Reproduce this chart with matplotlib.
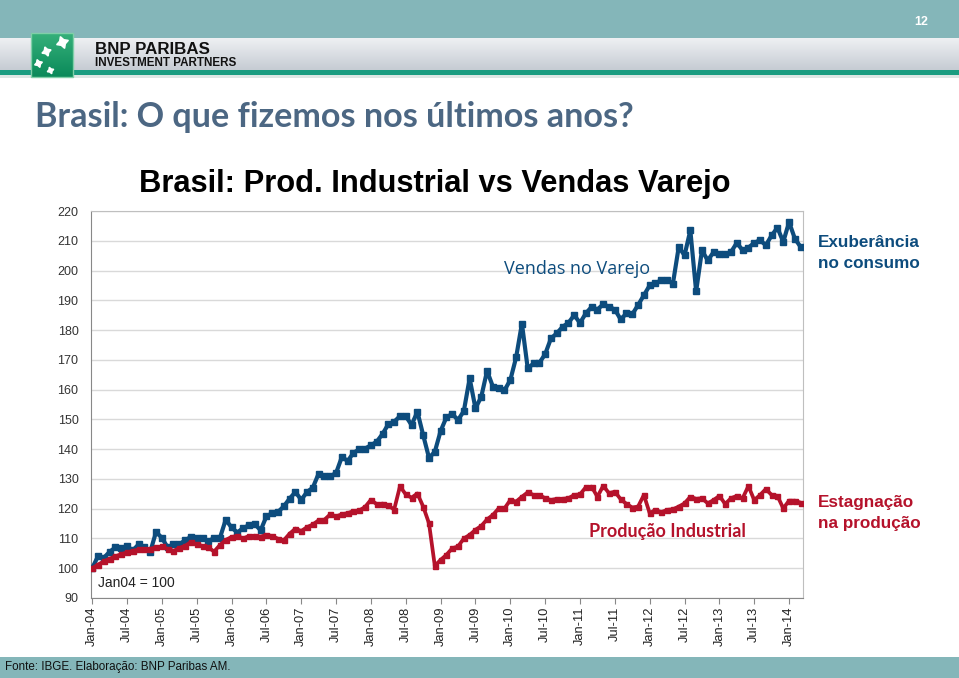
# Brasil: Prod. Industrial vs Vendas Varejo - slide recreation
import matplotlib
matplotlib.use("Agg")
import matplotlib.pyplot as plt
from matplotlib.patches import Rectangle
import numpy as np
import pandas as pd

# data (Jan04 = 100), monthly Jan-04 .. Mar-14
vendas_varejo = [
    100, 104, 103.5, 105.5, 107, 106.7, 107.3, 106, 108, 107, 105.5, 112.2,
    110.2, 107, 108, 108, 109.4, 110.5, 110, 110, 109, 110.2, 110.2, 116.3,
    113.7, 112, 113.5, 114.4, 114.9, 112.7, 117.4, 118.5, 118.9, 120.8, 123.4, 125.6,
    123, 125.6, 127.1, 131.8, 130.9, 130.9, 132, 137.4, 136, 138.8, 139.9, 140.2,
    141.3, 142.5, 145.1, 148.4, 149.2, 151.1, 151.1, 148.1, 152.6, 144.7, 137.1, 139.1,
    146.1, 150.7, 151.8, 149.8, 152.8, 163.8, 153.7, 157.6, 166.3, 161, 160.7, 159.8,
    163.2, 170.8, 182.2, 167.1, 168.8, 169, 171.9, 177.2, 178.9, 181.1, 182.4, 185,
    182.4, 185.6, 187.8, 186.9, 188.7, 187.8, 186.9, 183.6, 185.6, 185.3, 188.4, 191.7,
    195, 195.8, 196.7, 196.8, 195.6, 207.9, 205.1, 213.5, 193, 206.8, 203.4, 206.2,
    205.7, 205.5, 206.2, 209.3, 206.8, 207.7, 209.3, 210.2, 208.5, 211.8, 214.4, 209.6,
    216.3, 210.7, 207.9,
]
producao_industrial = [
    100, 101.2, 102.3, 103.2, 104, 104.7, 105.3, 105.8, 106.3, 106.5, 106.5, 107,
    107.3, 106.5, 105.8, 106.8, 107.5, 108.8, 108, 107.5, 107, 105.6, 107.8, 109.5,
    110.5, 110.8, 110, 110.8, 110.9, 110.6, 111.2, 110.8, 109.9, 109.4, 111.6, 113.3,
    112.5, 113.8, 114.7, 116.1, 116.3, 118.1, 117.4, 118.1, 118.5, 119.2, 119.4, 120.6,
    123, 121.5, 121.7, 121.1, 119.7, 127.5, 124.8, 123.7, 125.1, 120.7, 115.1, 100.8,
    102.8, 104.5, 106.7, 107.3, 110, 111.2, 112.9, 114.2, 116.4, 117.9, 120.1, 120.1,
    122.9, 122.4, 124, 125.5, 124.6, 124.6, 123.5, 122.9, 123.3, 123.3, 123.5, 124.6,
    124.8, 127.2, 127.4, 124, 127.7, 125.2, 125.7, 123.2, 121.6, 120.4, 120.7, 124.6,
    118.5, 119.6, 118.8, 119.6, 119.8, 120.7, 121.8, 124, 123.3, 123.5, 121.8, 122.9,
    124.3, 121.6, 123.5, 124.3, 123.5, 127.6, 122.9, 124.6, 126.6, 124.6, 124.3, 120.1,
    122.7, 122.7, 122,
]
months = pd.date_range("2004-01-01", periods=len(vendas_varejo), freq="MS")
yticks = list(range(90, 230, 10))

BLUE = "#0D4C7D"
RED = "#B5122B"
TEAL = "#84B6B9"
TITLE = "#4C6783"

W, H = 959, 678
fig = plt.figure(figsize=(W / 100, H / 100), dpi=100)
fig.patch.set_facecolor("white")

# background / slide decoration in pixel coordinates
bg = fig.add_axes([0, 0, 1, 1])
bg.set_xlim(0, W)
bg.set_ylim(H, 0)
bg.axis("off")

bg.add_patch(Rectangle((0, 0), W, 38, color=TEAL, lw=0))
grad = np.linspace(0, 1, 50).reshape(-1, 1)
bg.imshow(grad, extent=(0, W, 70, 38), aspect="auto",
          cmap=matplotlib.colors.LinearSegmentedColormap.from_list("g", ["#EEF0F3", "#C6CCD3"]),
          zorder=1)
bg.add_patch(Rectangle((0, 70), W, 5, color="#1A9C80", lw=0, zorder=2))
bg.add_patch(Rectangle((0, 75), W, 3, color="#DDE6E4", lw=0, zorder=2))

# logo
bg.imshow(np.linspace(0, 1, 50).reshape(-1, 1), extent=(31, 73, 77, 33), aspect="auto",
          cmap=matplotlib.colors.LinearSegmentedColormap.from_list("l", ["#35B07A", "#0B8A5A"]),
          zorder=3)
bg.add_patch(Rectangle((31, 33), 42, 44, fill=False, ec="#7FCFA8", lw=1, zorder=4))
for (sx, sy, ss) in [(62, 42, 9), (46, 51, 7), (38, 63, 6), (50, 70, 5)]:
    bg.plot(sx, sy, marker=(4, 1, 20), ms=ss, color="white", zorder=5)

bg.text(95, 49, "BNP PARIBAS", fontsize=12.2, fontweight="bold", family="Liberation Sans",
        va="center", ha="left", color="#111111", zorder=5)
bg.text(95, 62.5, "INVESTMENT PARTNERS", fontsize=8.4, fontweight="bold", family="Liberation Sans",
        va="center", ha="left", color="#111111", zorder=5)
bg.text(921, 22, "12", fontsize=9, fontweight="bold", family="Liberation Sans",
        va="center", ha="center", color="white")

bg.text(35, 117, "Brasil: O que fizemos nos últimos anos?", fontsize=24.6, fontweight="bold",
        family="Lato", va="center", ha="left", color=TITLE)
bg.text(435, 184, "Brasil: Prod. Industrial vs Vendas Varejo", fontsize=22.2,
        fontweight="bold", family="Liberation Sans", va="center", ha="center", color="black")

narrow = ["Liberation Sans Narrow", "Liberation Sans"]
bg.text(818, 253, "Exuberância\nno consumo", fontsize=12.3, fontweight="bold", family=narrow,
        va="center", ha="left", color=BLUE, linespacing=1.55)
bg.text(818, 513, "Estagnação\nna produção", fontsize=12.3, fontweight="bold", family=narrow,
        va="center", ha="left", color=RED, linespacing=1.55)

bg.add_patch(Rectangle((0, 657), W, 21, color=TEAL, lw=0))
bg.text(5, 667, "Fonte: IBGE. Elaboração: BNP Paribas AM.", fontsize=8.4, family=narrow,
        va="center", ha="left", color="#111111")

# chart
L, R, T, B = 91, 803, 211, 598
ax = fig.add_axes([L / W, (H - B) / H, (R - L) / W, (B - T) / H])
x = np.arange(len(vendas_varejo))
ax.plot(x, vendas_varejo, color=BLUE, lw=3, marker="s", ms=4.5, zorder=3)
ax.plot(x, producao_industrial, color=RED, lw=2.7, marker="s", ms=3.6, zorder=3)

ax.set_ylim(90, 220)
ax.set_xlim(-0.2, len(x) - 0.6)
ax.set_yticks(yticks)
ax.set_yticklabels([str(v) for v in yticks], fontsize=9, family="Liberation Sans", color="#333333")
xt = list(range(0, len(x), 6))
ax.set_xticks(xt)
ax.set_xticklabels([months[i].strftime("%b-%y") for i in xt], rotation=90, fontsize=9.3,
                   family="Liberation Sans", color="#222222")
ax.grid(axis="y", color="#D9D9D9", lw=1)
ax.set_axisbelow(True)
for s in ["top", "right"]:
    ax.spines[s].set_color("#BFBFBF")
ax.spines["left"].set_color("#888888")
ax.spines["bottom"].set_color("#888888")
ax.tick_params(axis="x", length=4, color="#888888", pad=2)
ax.tick_params(axis="y", length=0, pad=9)

ax.text(1, 95, "Jan04 = 100", fontsize=10, family="Liberation Sans", color="#222222",
        va="center", ha="left")
ax.text(71, 200.5, "Vendas no Varejo", fontsize=13, family="Open Sans", color=BLUE,
        va="center", ha="left")
ax.text(85.5, 112.5, "Produção Industrial", fontsize=13, fontweight="bold", family="Lato",
        color=RED, va="center", ha="left")

fig.savefig("out.png", dpi=100)
